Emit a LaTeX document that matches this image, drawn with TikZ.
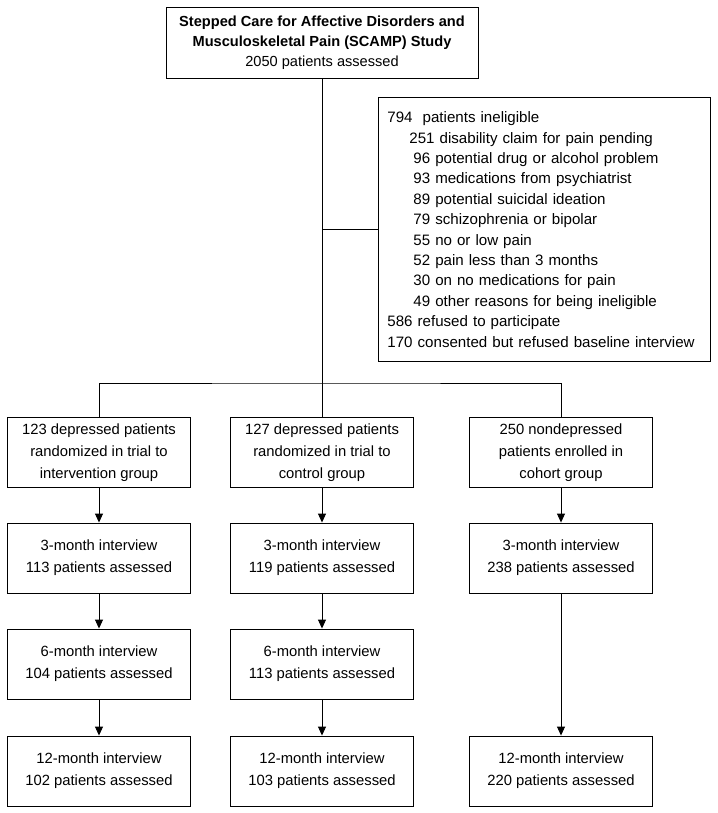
\documentclass[tikz,border=0pt]{standalone}
\usepackage{fontspec}
\setmainfont{Liberation Sans}
\usetikzlibrary{arrows.meta}

\begin{document}
\begin{tikzpicture}[x=1pt,y=-1pt,
		stagebox/.style={draw,line width=0.9pt,minimum width=183pt,minimum height=70pt,align=center,inner sep=2pt,font=\fontsize{14.8}{22}\selectfont},
		link/.style={line width=0.9pt},
		arr/.style={line width=0.9pt,-{Triangle[length=9pt,width=8pt]}}]
	\useasboundingbox (0,0) rectangle (717,813);
	\node[draw,line width=0.9pt,minimum width=312pt,minimum height=71pt,align=center,font=\fontsize{14.6}{20}\selectfont] (study) at (322,42.5) {\textbf{Stepped Care for Affective Disorders and}\\\textbf{Musculoskeletal Pain (SCAMP) Study}\\2050 patients assessed};
	\node[draw,line width=0.9pt,anchor=north west,text width=314pt,inner xsep=9pt,minimum height=264pt,align=left,font=\fontsize{15.1}{20.4}\selectfont] (excl) at (378,97) {794\ \ patients ineligible\\
		\hspace*{22pt}251 disability claim for pain pending\\
		\hspace*{26pt}96 potential drug or alcohol problem\\
		\hspace*{26pt}93 medications from psychiatrist\\
		\hspace*{26pt}89 potential suicidal ideation\\
		\hspace*{26pt}79 schizophrenia or bipolar\\
		\hspace*{26pt}55 no or low pain\\
		\hspace*{26pt}52 pain less than 3 months\\
		\hspace*{26pt}30 on no medications for pain\\
		\hspace*{26pt}49 other reasons for being ineligible\\
		586 refused to participate\\
		170 consented but refused baseline interview};
	\node[stagebox] (int0) at (99,452.5) {123 depressed patients\\randomized in trial to\\intervention group};
	\node[stagebox] (ctl0) at (322,452.5) {127 depressed patients\\randomized in trial to\\control group};
	\node[stagebox] (coh0) at (561,452.5) {250 nondepressed\\patients enrolled in\\cohort group};
	\node[stagebox] (int3) at (99,558) {3-month interview\\113 patients assessed};
	\node[stagebox] (ctl3) at (322,558) {3-month interview\\119 patients assessed};
	\node[stagebox] (coh3) at (561,558) {3-month interview\\238 patients assessed};
	\node[stagebox] (int6) at (99,664) {6-month interview\\104 patients assessed};
	\node[stagebox] (ctl6) at (322,664) {6-month interview\\113 patients assessed};
	\node[stagebox] (int12) at (99,771) {12-month interview\\102 patients assessed};
	\node[stagebox] (ctl12) at (322,771) {12-month interview\\103 patients assessed};
	\node[stagebox] (coh12) at (561,771) {12-month interview\\220 patients assessed};
	\coordinate (tee) at (study.south |- excl.west);
	\coordinate (bus) at (322,383);
	\draw[link] (study.south) -- (bus);
	\draw[link] (tee) -- (excl.west);
	\draw[link] (int0.north) |- (bus) -| (coh0.north);
	\draw[link] (bus) -- (ctl0.north);
	\draw[arr] (int0) -- (int3);
	\draw[arr] (int3) -- (int6);
	\draw[arr] (int6) -- (int12);
	\draw[arr] (ctl0) -- (ctl3);
	\draw[arr] (ctl3) -- (ctl6);
	\draw[arr] (ctl6) -- (ctl12);
	\draw[arr] (coh0) -- (coh3);
	\draw[arr] (coh3) -- (coh12);
\end{tikzpicture}
\end{document}
